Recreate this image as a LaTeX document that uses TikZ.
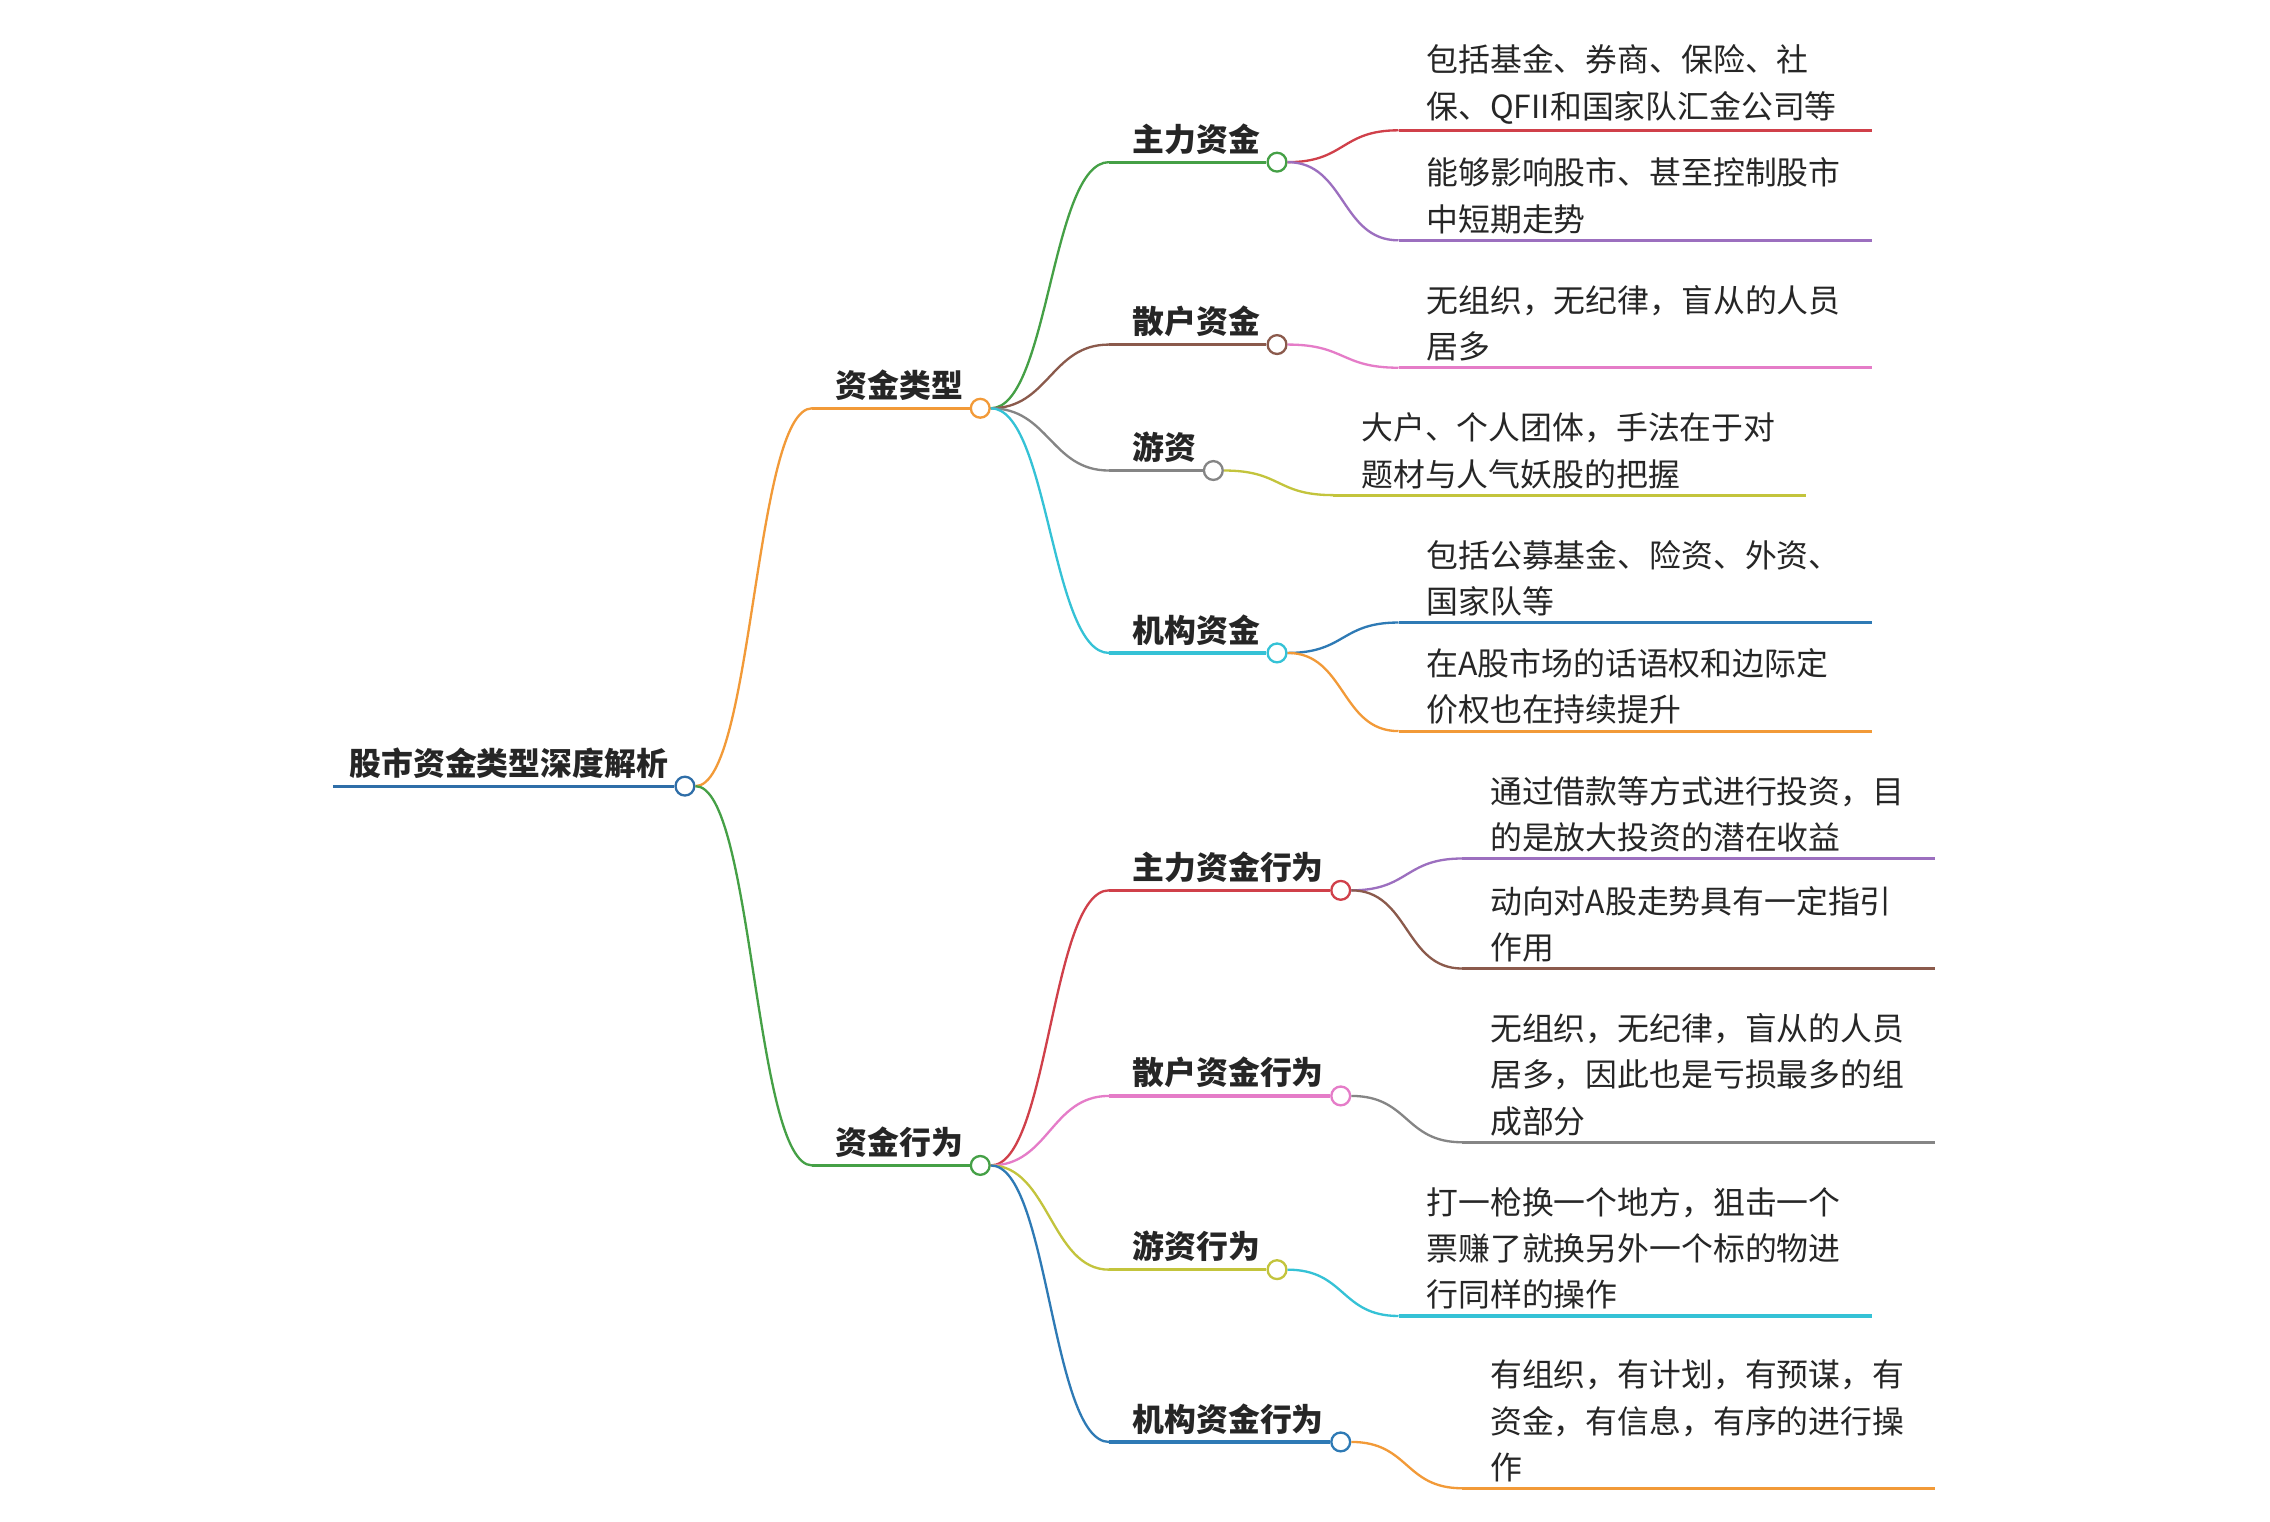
\documentclass[tikz,border=0pt]{standalone}
\usepackage{fontspec}
\setmainfont{Noto Sans CJK SC}
\usetikzlibrary{positioning}
\definecolor{cblue}{HTML}{2F6EA8}
\definecolor{corange}{HTML}{F29A38}
\definecolor{cgreen}{HTML}{45A046}
\definecolor{cbrown}{HTML}{8B5A4C}
\definecolor{cgray}{HTML}{858585}
\definecolor{ccyan}{HTML}{35C2D6}
\definecolor{cred}{HTML}{D0404A}
\definecolor{cpurple}{HTML}{9C6FBF}
\definecolor{cpink}{HTML}{E57CC8}
\definecolor{colive}{HTML}{C3C43C}
\definecolor{cblue2}{HTML}{2E7AB5}

\begin{document}
\begin{tikzpicture}[x=0.5pt,y=-0.5pt]
                \tikzstyle{every node}+=[inner sep=0pt,text=black!85]
                \tikzstyle{rtopic}=[font=\bfseries\fontsize{11pt}{16pt}\selectfont,anchor=south west,inner xsep=2pt,inner ysep=2.5pt]
                \tikzstyle{topic}=[rtopic,execute at begin node={\hspace*{6pt}}]
                \tikzstyle{leaf}=[font=\fontsize{11pt}{16pt}\selectfont,anchor=south west,inner xsep=9.5pt,inner ysep=2pt,text width=144pt,align=left]
                \tikzstyle{knob}=[circle,fill=white,line width=0.8pt,minimum size=6.5pt,anchor=west]
                \tikzstyle{uline}=[line width=1.1pt]
                \tikzstyle{link}=[line width=0.8pt]
                \fill [white] (0,0) rectangle (1568,1051);
                \useasboundingbox (0,0) rectangle (1568,1051);
                % root
                \node [rtopic,execute at begin node={\hspace*{3.5pt}}] (root) at (230,543) {股市资金类型深度解析};
                \node [knob,draw=cblue] (root-k) at (root.south east) {};
                \draw [uline,cblue] (root.south west) -- (root-k.west);
                % level 1
                \node [topic] (typ) at (561,282) {资金类型};
                \node [knob,draw=corange] (typ-k) at (typ.south east) {};
                \draw [uline,corange] (typ.south west) -- (typ-k.west);
                \draw [link,corange] (root-k.east) .. controls +(40,0) and +(-40,0) .. (typ.south west);
                \node [topic] (act) at (561,805) {资金行为};
                \node [knob,draw=cgreen] (act-k) at (act.south east) {};
                \draw [uline,cgreen] (act.south west) -- (act-k.west);
                \draw [link,cgreen] (root-k.east) .. controls +(40,0) and +(-40,0) .. (act.south west);
                % level 2, types
                \node [topic] (zl) at (766,112) {主力资金};
                \node [knob,draw=cgreen] (zl-k) at (zl.south east) {};
                \draw [uline,cgreen] (zl.south west) -- (zl-k.west);
                \draw [link,cgreen] (typ-k.east) .. controls +(40,0) and +(-40,0) .. (zl.south west);
                \node [topic] (sh) at (766,238) {散户资金};
                \node [knob,draw=cbrown] (sh-k) at (sh.south east) {};
                \draw [uline,cbrown] (sh.south west) -- (sh-k.west);
                \draw [link,cbrown] (typ-k.east) .. controls +(40,0) and +(-40,0) .. (sh.south west);
                \node [topic] (yz) at (766,325) {游资};
                \node [knob,draw=cgray] (yz-k) at (yz.south east) {};
                \draw [uline,cgray] (yz.south west) -- (yz-k.west);
                \draw [link,cgray] (typ-k.east) .. controls +(40,0) and +(-40,0) .. (yz.south west);
                \node [topic] (jg) at (766,451) {机构资金};
                \node [knob,draw=ccyan] (jg-k) at (jg.south east) {};
                \draw [uline,ccyan] (jg.south west) -- (jg-k.west);
                \draw [link,ccyan] (typ-k.east) .. controls +(40,0) and +(-40,0) .. (jg.south west);
                % level 2, behaviour
                \node [topic] (zlx) at (766,615) {主力资金行为};
                \node [knob,draw=cred] (zlx-k) at (zlx.south east) {};
                \draw [uline,cred] (zlx.south west) -- (zlx-k.west);
                \draw [link,cred] (act-k.east) .. controls +(40,0) and +(-40,0) .. (zlx.south west);
                \node [topic] (shx) at (766,757) {散户资金行为};
                \node [knob,draw=cpink] (shx-k) at (shx.south east) {};
                \draw [uline,cpink] (shx.south west) -- (shx-k.west);
                \draw [link,cpink] (act-k.east) .. controls +(40,0) and +(-40,0) .. (shx.south west);
                \node [topic] (yzx) at (766,877) {游资行为};
                \node [knob,draw=colive] (yzx-k) at (yzx.south east) {};
                \draw [uline,colive] (yzx.south west) -- (yzx-k.west);
                \draw [link,colive] (act-k.east) .. controls +(40,0) and +(-40,0) .. (yzx.south west);
                \node [topic] (jgx) at (766,996) {机构资金行为};
                \node [knob,draw=cblue2] (jgx-k) at (jgx.south east) {};
                \draw [uline,cblue2] (jgx.south west) -- (jgx-k.west);
                \draw [link,cblue2] (act-k.east) .. controls +(40,0) and +(-40,0) .. (jgx.south west);
                % leaves, types
                \node [leaf] (zl1) at (966,90) {包括基金、券商、保险、社\\保、QFII和国家队汇金公司等};
                \draw [uline,cred] (zl1.south west) -- (zl1.south east);
                \draw [link,cred] (zl-k.east) .. controls +(40,0) and +(-40,0) .. (zl1.south west);
                \node [leaf] (zl2) at (966,166) {能够影响股市、甚至控制股市\\中短期走势};
                \draw [uline,cpurple] (zl2.south west) -- (zl2.south east);
                \draw [link,cpurple] (zl-k.east) .. controls +(40,0) and +(-40,0) .. (zl2.south west);
                \node [leaf] (sh1) at (966,254) {无组织，无纪律，盲从的人员\\居多};
                \draw [uline,cpink] (sh1.south west) -- (sh1.south east);
                \draw [link,cpink] (sh-k.east) .. controls +(40,0) and +(-40,0) .. (sh1.south west);
                \node [leaf] (yz1) at (921,342) {大户、个人团体，手法在于对\\题材与人气妖股的把握};
                \draw [uline,colive] (yz1.south west) -- (yz1.south east);
                \draw [link,colive] (yz-k.east) .. controls +(40,0) and +(-40,0) .. (yz1.south west);
                \node [leaf] (jg1) at (966,430) {包括公募基金、险资、外资、\\国家队等};
                \draw [uline,cblue2] (jg1.south west) -- (jg1.south east);
                \draw [link,cblue2] (jg-k.east) .. controls +(40,0) and +(-40,0) .. (jg1.south west);
                \node [leaf] (jg2) at (966,505) {在A股市场的话语权和边际定\\价权也在持续提升};
                \draw [uline,corange] (jg2.south west) -- (jg2.south east);
                \draw [link,corange] (jg-k.east) .. controls +(40,0) and +(-40,0) .. (jg2.south west);
                % leaves, behaviour
                \node [leaf] (zlx1) at (1010,593) {通过借款等方式进行投资，目\\的是放大投资的潜在收益};
                \draw [uline,cpurple] (zlx1.south west) -- (zlx1.south east);
                \draw [link,cpurple] (zlx-k.east) .. controls +(40,0) and +(-40,0) .. (zlx1.south west);
                \node [leaf] (zlx2) at (1010,669) {动向对A股走势具有一定指引\\作用};
                \draw [uline,cbrown] (zlx2.south west) -- (zlx2.south east);
                \draw [link,cbrown] (zlx-k.east) .. controls +(40,0) and +(-40,0) .. (zlx2.south west);
                \node [leaf] (shx1) at (1010,789) {无组织，无纪律，盲从的人员\\居多，因此也是亏损最多的组\\成部分};
                \draw [uline,cgray] (shx1.south west) -- (shx1.south east);
                \draw [link,cgray] (shx-k.east) .. controls +(40,0) and +(-40,0) .. (shx1.south west);
                \node [leaf] (yzx1) at (966,909) {打一枪换一个地方，狙击一个\\票赚了就换另外一个标的物进\\行同样的操作};
                \draw [uline,ccyan] (yzx1.south west) -- (yzx1.south east);
                \draw [link,ccyan] (yzx-k.east) .. controls +(40,0) and +(-40,0) .. (yzx1.south west);
                \node [leaf] (jgx1) at (1010,1028) {有组织，有计划，有预谋，有\\资金，有信息，有序的进行操\\作};
                \draw [uline,corange] (jgx1.south west) -- (jgx1.south east);
                \draw [link,corange] (jgx-k.east) .. controls +(40,0) and +(-40,0) .. (jgx1.south west);
\end{tikzpicture}
\end{document}
